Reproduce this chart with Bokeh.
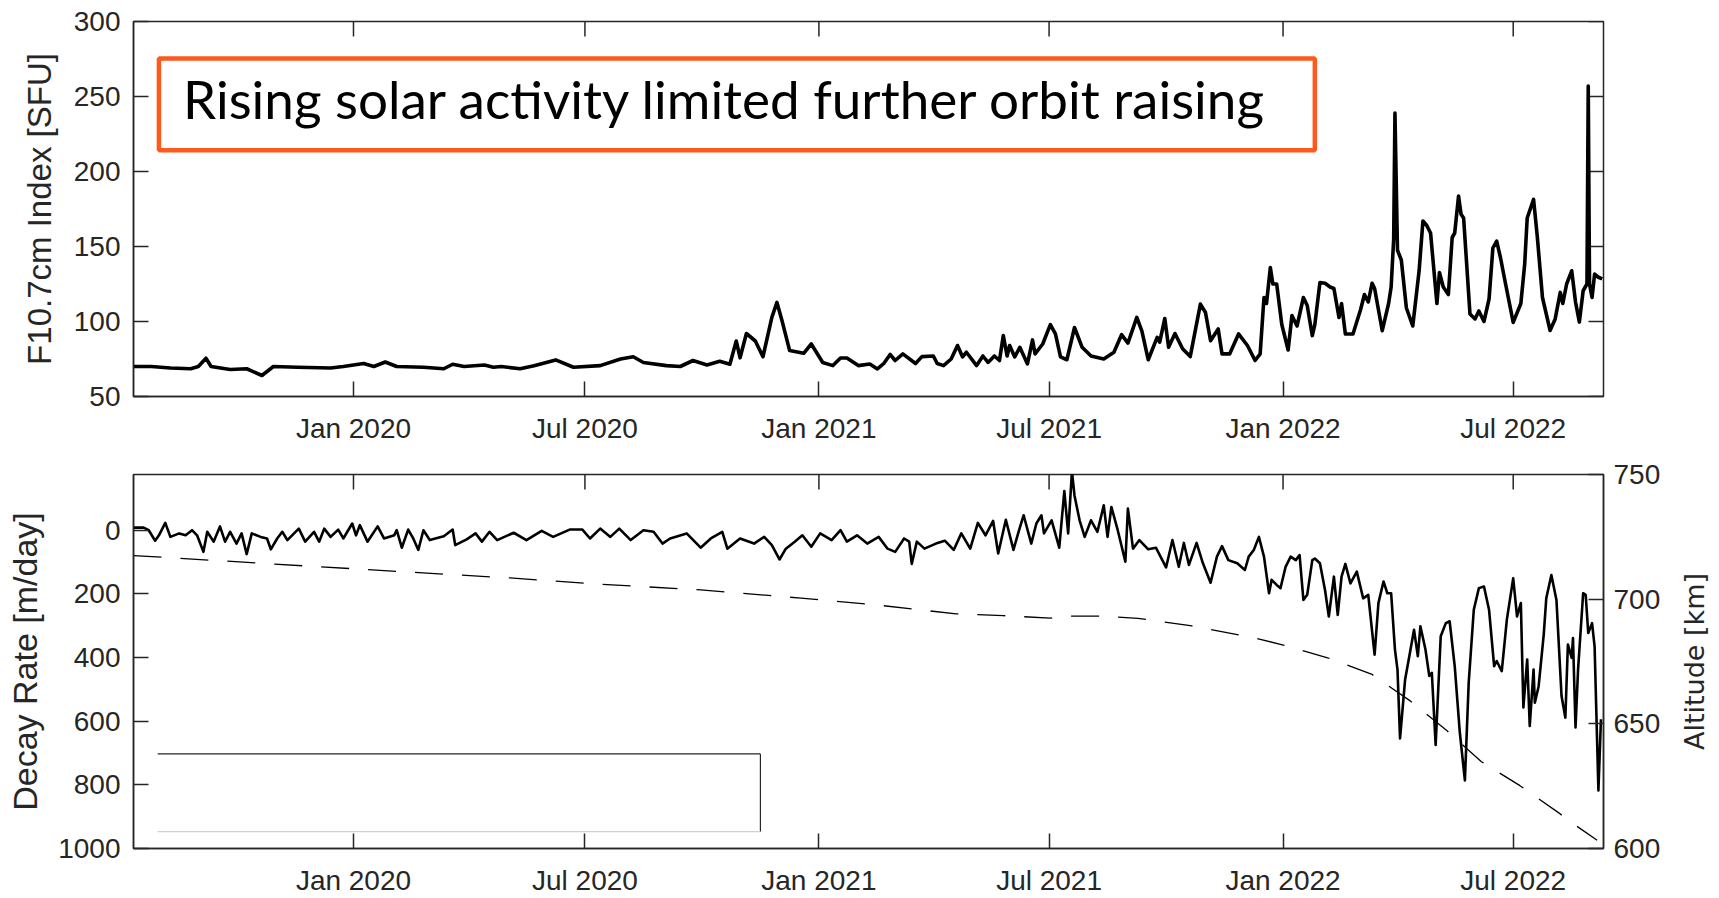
import numpy as np
from bokeh.plotting import figure
from bokeh.models import (Range1d, LinearAxis, FixedTicker, DatetimeTickFormatter, Label,
                          BoxAnnotation, ColumnDataSource)
from bokeh.layouts import column, row
from bokeh.embed import file_html
from bokeh.resources import INLINE

# ---------------- data (day offsets from START) ----------------
START = np.datetime64("2019-07-12")
END = np.datetime64("2022-09-10")

f107_day = [0, 14, 29, 45, 51, 57, 61, 76, 89, 101, 110, 129, 155, 165, 181, 189, 198, 207, 228, 244,
            251, 260, 276, 283, 289, 304, 315, 332, 346, 367, 383, 393, 401, 419, 430, 440, 451, 461,
            469, 474, 477, 482, 489, 495, 502, 506, 510, 516, 527, 533, 542, 550, 556, 561, 570,
            579, 585, 590, 595, 599, 605, 615, 620, 629, 632, 637, 643, 648, 652, 655, 663, 668, 672,
            677, 681, 684, 687, 689, 693, 697, 703, 707, 709, 715, 721, 725, 729, 734, 740, 746, 753,
            763, 771, 777, 782, 789, 793, 798, 805, 807, 811, 814, 819, 825, 831, 839, 843, 847, 853,
            856, 862, 869, 876, 882, 886, 889, 891, 894, 896, 899, 903, 908, 911, 915, 920, 923, 927,
            929, 933, 937, 941, 944, 948, 950, 953, 959, 965, 968, 971, 974, 976, 982, 987, 989, 991,
            992, 994, 997, 1001, 1006, 1011, 1014, 1017, 1020, 1025, 1027, 1030, 1034, 1037, 1039,
            1042, 1044, 1046, 1051, 1055, 1058, 1062, 1066, 1069, 1072, 1075, 1079, 1085, 1091, 1094,
            1096, 1101, 1104, 1108, 1114, 1118, 1122, 1124, 1127, 1131, 1134, 1137, 1140, 1143, 1144,
            1145, 1147, 1149, 1152, 1155]
f107_val = [70, 70, 69, 68.5, 70, 75.5, 70, 68, 68.5, 64, 70, 69.5, 69, 70, 72, 70, 73, 70, 69.5, 68.5,
            71.5, 70, 71, 69.5, 70, 68.5, 70.5, 74.4, 69.5, 70.6, 75, 76.5, 72.7, 70.6, 70, 74, 71, 73.5,
            71.5, 87, 75.8, 92, 87, 76.5, 102.7, 112.7, 100.5, 80.6, 78.8, 85, 72.7, 70.6, 75.7, 75.7, 70.6,
            71.7, 68.4, 72, 78, 74, 78.4, 72, 76.6, 77, 72, 70.6, 75, 84, 76.4, 79.5, 70.6, 77, 72.7,
            77, 74, 90.6, 77, 84, 76.4, 82.8, 71.7, 87.7, 78.4, 85, 97.9, 91.7, 76.4, 74.5, 96, 82.8, 77,
            75, 79.5, 91.2, 85.6, 102.7, 93.6, 74.5, 89.4, 86.3, 102, 82.8, 92, 81.8, 76.6, 111.6, 106, 87.2, 95,
            78.4, 78.4, 91.7, 84, 74, 78.4, 116, 112, 136, 125, 125, 98, 81, 104, 97, 116, 110.7, 90.6,
            98, 126, 125.5, 123, 122, 102.7, 112, 91.7, 91.7, 108, 118, 113, 125.5, 122, 93.9, 112, 123, 155,
            239, 147.5, 141, 109, 97, 133.8, 167, 164, 159, 112, 132.7, 123, 118, 156, 159,
            183.6, 171.5, 169, 105, 101.7, 107, 100, 115, 149, 153.6, 142.5, 125, 99.4, 112, 138,
            169, 181.4, 156, 116, 94, 101.7, 119.4, 112, 125, 133.8, 113, 99.6, 120.5, 125, 257,
            125, 116, 131.6, 129.5, 128.4]

decay_day = [0, 8, 12, 17, 20, 25, 29, 36, 41, 46, 50, 55, 58, 63, 68, 72, 76, 81, 85, 89, 93, 100, 105,
             108, 113, 117, 121, 130, 135, 142, 146, 150, 155, 161, 165, 172, 175, 178, 184, 192, 197,
             205, 207, 211, 216, 220, 224, 228, 233, 244, 251, 253, 262, 269, 274, 280, 286,
             299, 309, 321, 330, 343, 353, 359, 367, 375, 382, 391, 401, 409, 416, 422, 435, 446, 454,
             463, 467, 477, 488, 496, 502, 508, 513, 520, 526, 533, 540, 549, 556, 561, 569, 577,
             586, 593, 599, 606, 610, 612, 616, 622, 631, 638, 645, 651, 658, 664, 670, 676, 680, 686,
             692, 696, 700, 706, 710, 714, 716, 722, 728, 732, 735, 738, 740, 744, 748, 753, 758, 763,
             766, 769, 774, 780, 782, 786, 791, 798, 804, 812, 817, 822, 826, 830, 836, 841, 847, 852,
             856, 861, 868, 874, 877, 881, 885, 889, 893, 895, 899, 902, 906, 910, 914, 917, 920, 923,
             927, 929, 933, 937, 940, 944, 947, 950, 953, 957, 962, 967, 971, 975, 976, 979, 983, 986,
             989, 992, 994, 996, 1000, 1004, 1007, 1010, 1012, 1016, 1019, 1021, 1024, 1028, 1032, 1035,
             1039, 1043, 1047, 1050, 1054, 1058, 1062, 1066, 1070, 1072, 1076, 1080, 1085, 1088, 1091,
             1093, 1096, 1098, 1101, 1102, 1105, 1109, 1111, 1115, 1119, 1123, 1126, 1128, 1131, 1132,
             1134, 1136, 1140, 1142, 1144, 1147, 1149, 1152, 1154]
decay_val = [-8, -8, 0, 33, 16, -23, 21, 10, 16, 0, 16, 68, 5, 36, -12, 36, 5, 42, 10, 75, 10, 21, 26,
             60, 26, 5, 31, -5, 36, 5, 36, -5, 21, -2, 26, -21, 16, -16, 36, -12, 26,
             16, 0, 55, -2, 26, 62, 0, 31, 19, -2, 47, 29, 10, 36, 5, 31,
             8, 31, 2, 21, -2, -2, 26, -5, 21, -5, 31, 0, 5, 42, 26, 10, 55, 26,
             5, 58, 26, 42, 21, 47, 92, 58, 36, 16, 52, 10, 31, 0, 36, 16, 42,
             21, 58, 68, 26, 36, 106, 36, 58, 42, 33, 62, 10, 58, -23, 16, -29, 73, -33,
             62, 5, -47, 42, -21, -47, 10, -31, 55, -123, 10, -185, -109, -31, 21, -31, 5, -78,
             21, -73, 0, 99, -68, 58, 31, 60, 55, 117, 31, 115, 40, 109, 40, 104, 165, 83,
             50, 94, 104, 125, 83, 62, 21, 83, 198, 156, 172, 182, 115, 83, 94, 78, 219, 203,
             94, 89, 104, 188, 271, 146, 266, 146, 106, 167, 130, 214, 203, 354, 391, 229, 161, 198,
             198, 375, 438, 654, 469, 380, 313, 396, 302, 375, 458, 448, 675, 333, 292, 286,
             427, 635, 786, 479, 250, 182, 177, 250, 427, 411, 443, 281, 151, 271, 229,
             557, 406, 615, 438, 542, 490, 328, 214, 141, 219, 521, 589, 359, 401, 339,
             620, 438, 198, 203, 323, 292, 365, 818, 594]

alt_day = [0, 146, 296, 367, 446, 525, 584, 647, 684, 721, 735, 760, 790, 831, 868, 882, 905, 939,
           974, 1004, 1033, 1060, 1090, 1120, 1132, 1151]
alt_val = [717.5, 713, 708.5, 706, 703.7, 700.4, 697.7, 694.1, 693.4, 692.4, 693.2, 693.2, 692.3,
           689.4, 685.8, 684.4, 681.5, 676.5, 669.8, 659.2, 647.2, 634.8, 625.3, 614.6, 610, 603.3]

x_tick_dates = ["2020-01-01", "2020-07-01", "2021-01-01", "2021-07-01", "2022-01-01", "2022-07-01"]
f107_ticks = [50, 100, 150, 200, 250, 300]
decay_ticks = [0, 200, 400, 600, 800, 1000]
alt_ticks = [600, 650, 700, 750]

TITLE = "Rising solar activity limited further orbit raising"
ALT_LABEL = "Altitude [km]"


def to_dt(days):
    return START + np.array(days, dtype="timedelta64[D]")


def ms(d):
    return float(np.datetime64(d, "ms").astype("int64"))


# ---------------- styling ----------------
AX = "#262626"
TICK_FONT = "Liberation Sans"
xt = FixedTicker(ticks=[ms(d) for d in x_tick_dates])
fmt = DatetimeTickFormatter(days="%b %Y", months="%b %Y", years="%b %Y")
x_range = Range1d(start=ms(START), end=ms(END))
W = 1719
STRIP = 50                      # narrow strip holding the right-hand axis title
DAY_MS = 86400000.0
TICK_X = 11.8 * DAY_MS          # 15 px of inward tick along x


def style_axis(ax):
    ax.axis_line_color = AX
    ax.axis_line_width = 1.5
    ax.major_tick_line_color = AX
    ax.major_tick_line_width = 1.5
    ax.major_tick_in = 15
    ax.major_tick_out = 0
    ax.minor_tick_line_color = None
    ax.major_label_text_color = AX
    ax.major_label_text_font = TICK_FONT
    ax.major_label_text_font_size = "28px"
    ax.axis_label_text_font_style = "normal"
    ax.axis_label_text_color = AX


def mirror_ticks(p, xs, y_edge, dy, ys, y_range_name="default"):
    # inward ticks on the top edge (at x tick dates) and on the right edge (at y ticks)
    p.segment(x0=xs, y0=[y_edge] * len(xs), x1=xs, y1=[y_edge + dy] * len(xs),
              line_color=AX, line_width=1.5)
    if ys:
        e = ms(END)
        p.segment(x0=[e] * len(ys), y0=ys, x1=[e - TICK_X] * len(ys), y1=ys,
                  line_color=AX, line_width=1.5, y_range_name=y_range_name)


xt_ms = [ms(d) for d in x_tick_dates]

# ---------------- top panel ----------------
p1 = figure(width=W, height=460, x_axis_type="datetime", x_range=x_range,
            y_range=Range1d(50, 300), output_backend="svg", toolbar_location=None,
            min_border_left=133, min_border_right=116, min_border_top=21, min_border_bottom=64)
p1.outline_line_color = AX
p1.outline_line_width = 1.5
p1.outline_line_alpha = 1.0
p1.grid.visible = False
p1.xaxis.ticker = xt
p1.xaxis.formatter = fmt
p1.yaxis.ticker = FixedTicker(ticks=f107_ticks)
style_axis(p1.xaxis[0])
style_axis(p1.yaxis[0])
p1.xaxis.major_label_standoff = 16
p1.yaxis.major_label_standoff = 13
p1.yaxis.axis_label = "F10.7cm Index [SFU]"
p1.yaxis.axis_label_text_font = "Liberation Sans"
p1.yaxis.axis_label_text_font_size = "33px"
p1.yaxis.axis_label_standoff = 13
mirror_ticks(p1, xt_ms, 300, -10, f107_ticks)

src1 = ColumnDataSource(dict(x=to_dt(f107_day), y=f107_val))
p1.line("x", "y", source=src1, line_color="black", line_width=3.6, line_join="round")

# annotation box + text
box = BoxAnnotation(left=ms("2019-08-01"), right=ms("2022-01-26"), bottom=214.2, top=275.4,
                    fill_alpha=0, fill_color=None, line_color="#FF5A1E", line_width=4.5,
                    line_alpha=1.0)
p1.add_layout(box)
p1.add_layout(Label(x=ms("2019-08-20"), y=249, text=TITLE, text_font="Lato",
                    text_font_size="53px", text_color="black", text_baseline="alphabetic"))

# ---------------- bottom panel ----------------
p2 = figure(width=W - STRIP, height=438, x_axis_type="datetime", x_range=x_range,
            y_range=Range1d(1000, -175), output_backend="svg", toolbar_location=None,
            min_border_left=133, min_border_right=116 - STRIP, min_border_top=14,
            min_border_bottom=48)
p2.outline_line_color = AX
p2.outline_line_width = 1.5
p2.grid.visible = False
p2.extra_y_ranges = {"alt": Range1d(600, 750)}
p2.xaxis.ticker = xt
p2.xaxis.formatter = fmt
p2.yaxis.ticker = FixedTicker(ticks=decay_ticks)
style_axis(p2.xaxis[0])
style_axis(p2.yaxis[0])
p2.xaxis.major_label_standoff = 16
p2.yaxis.major_label_standoff = 13
p2.yaxis.axis_label = "Decay Rate [m/day]"
p2.yaxis.axis_label_text_font = "Liberation Sans"
p2.yaxis.axis_label_text_font_size = "34px"
p2.yaxis.axis_label_standoff = 11

alt_ax = LinearAxis(y_range_name="alt", ticker=FixedTicker(ticks=alt_ticks))
style_axis(alt_ax)
alt_ax.major_label_standoff = 10
p2.add_layout(alt_ax, "right")
mirror_ticks(p2, xt_ms, -175, 47, [])

src2 = ColumnDataSource(dict(x=to_dt(decay_day), y=decay_val))
p2.line("x", "y", source=src2, line_color="black", line_width=2.6, line_join="round")
src3 = ColumnDataSource(dict(x=to_dt(alt_day), y=alt_val))
p2.line("x", "y", source=src3, y_range_name="alt", line_color="black", line_width=1.3,
        line_dash="28 19")

# empty legend frame (as in the reference)
lx0, lx1, ly0, ly1 = ms("2019-07-31"), ms("2020-11-16"), 703, 947
p2.segment(x0=[lx0, lx1], y0=[ly0, ly0], x1=[lx1, lx1], y1=[ly0, ly1],
           line_color=AX, line_width=1.2)
p2.segment(x0=[lx0], y0=[ly1], x1=[lx1], y1=[ly1], line_color="#cfcfcf", line_width=1.2)

# right-hand axis title (reads bottom-to-top, like in the reference)
p3 = figure(width=STRIP, height=438, x_range=Range1d(0, 1), y_range=Range1d(0, 1),
            output_backend="svg", toolbar_location=None, x_axis_location=None,
            y_axis_location=None, min_border=0, outline_line_color=None)
p3.grid.visible = False
p3.add_layout(Label(x=0.5, y=0.50, text=ALT_LABEL, angle=float(np.pi / 2),
                    text_align="center", text_baseline="middle",
                    text_font="DejaVu Sans", text_font_size="27px", text_color=AX))

layout = column(p1, row(p2, p3, spacing=0), spacing=0)
open("out.html", "w").write(file_html(layout, INLINE))
